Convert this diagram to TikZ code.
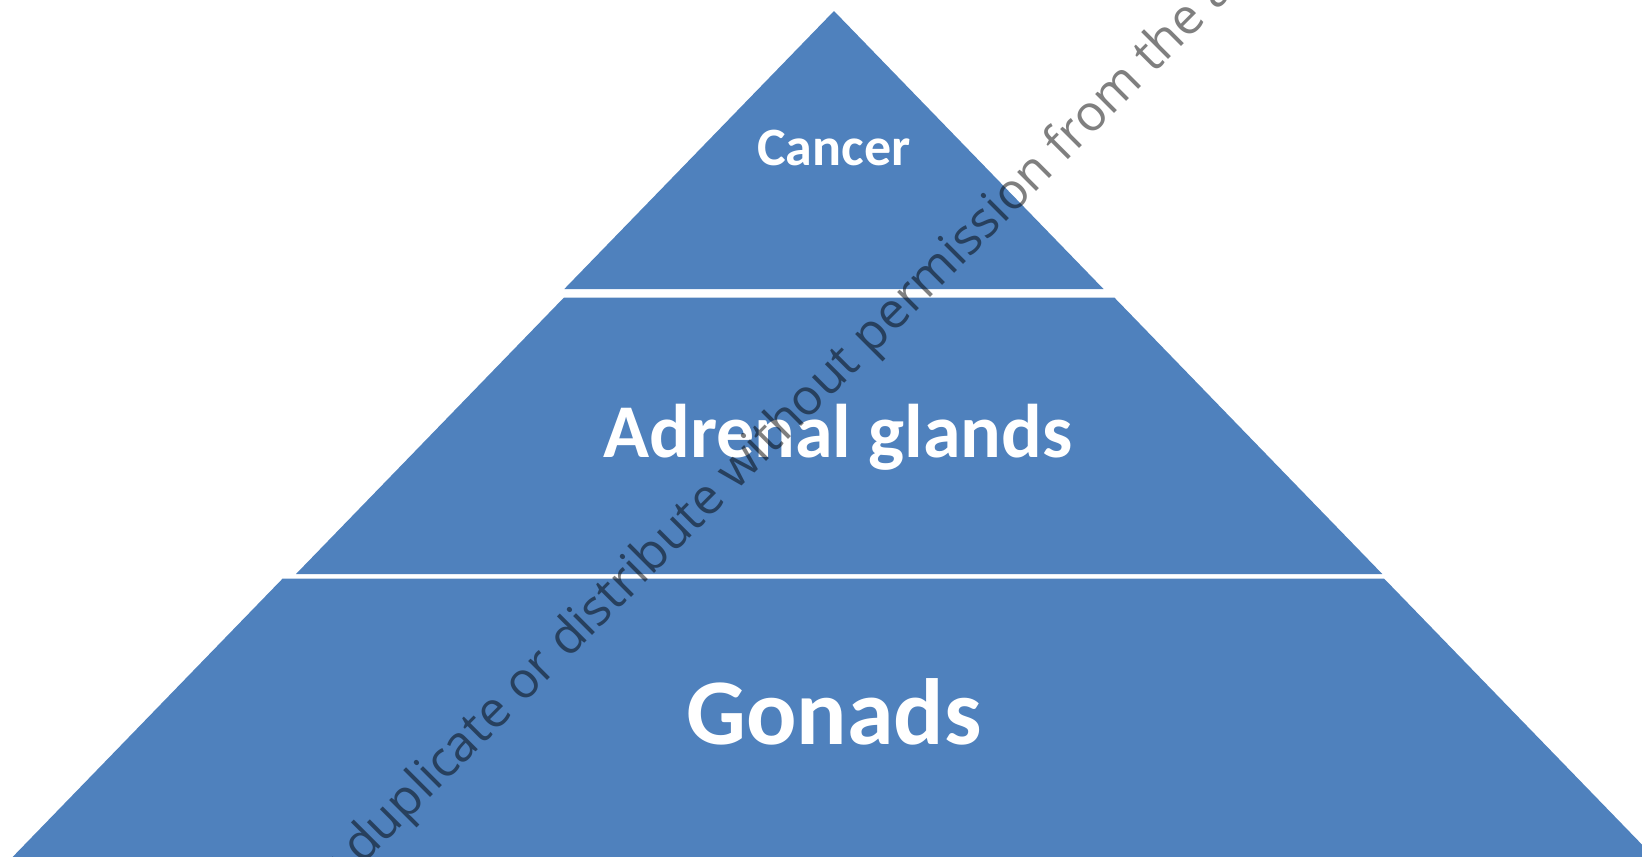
\documentclass[tikz,border=0pt]{standalone}
\usepackage{fontspec}
\setmainfont{Carlito}
\newfontfamily\wmfont{Open Sans}
\definecolor{tierblue}{RGB}{79,129,189}

\begin{document}
\begin{tikzpicture}[x=1pt, y=-1pt,
    tiertext/.style={text=white, anchor=base, inner sep=0pt, font=\bfseries},
    wmtext/.style={text=black, text opacity=0.5, rotate=45, anchor=base west, inner sep=0pt}]
    % Picture frame
    \useasboundingbox (0,0) rectangle (1642,857);
    \clip (0,0) rectangle (1642,857);

    % Three tiers of the pyramid
    \fill[tierblue] (834,11) -- (1103.5,289) -- (564.3,289) -- cycle;
    \fill[tierblue] (564,297.5) -- (1114.3,297.5) -- (1382.3,574) -- (296,574) -- cycle;
    \fill[tierblue] (282.7,578.5) -- (1384,578.5) -- (1654,857) -- (12.6,857) -- cycle;

    % Tier labels
    \node[tiertext, font=\bfseries\fontsize{54}{54}\selectfont] (cancer) at (834,165.5) {Cancer};
    \node[tiertext, font=\bfseries\fontsize{76}{76}\selectfont] (adrenal) at (838,457.6) {Adrenal glands};
    \node[tiertext, font=\bfseries\fontsize{94}{94}\selectfont] (gonads) at (834,744) {Gonads};

    % Watermark
    \node[wmtext, font=\wmfont\fontsize{50}{50}\selectfont] (watermark) at (362,866)
        {\llap{Do not }duplicate or distribute without permission from the author};
\end{tikzpicture}
\end{document}
